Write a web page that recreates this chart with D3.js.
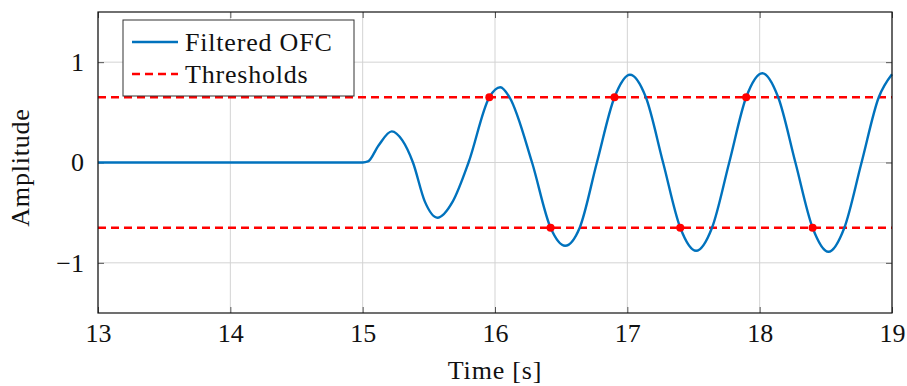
<!DOCTYPE html>
<html>
<head>
<meta charset="utf-8">
<script src="https://cdn.jsdelivr.net/npm/d3@7"></script>
<style>
  body { margin: 0; background: #fff; }
  text { font-family: 'Liberation Serif', 'DejaVu Serif', serif; fill: #111; }
</style>
</head>
<body>
<script>
'use strict';

// signal samples (time [s], amplitude)
var signalTime = [13, 15.0, 15.04, 15.12, 15.22, 15.30, 15.38, 15.47, 15.565, 15.68, 15.80,
  15.957, 16.04, 16.11, 16.28, 16.42, 16.53, 16.64, 16.77, 16.903, 17.02, 17.14, 17.27,
  17.40, 17.52, 17.64, 17.77, 17.898, 18.02, 18.14, 18.27, 18.40, 18.52, 18.64, 18.77, 18.90, 19.0];
var signalAmp = [0, 0, 0.01, 0.17, 0.31, 0.22, 0.0, -0.39, -0.55, -0.39, 0.0,
  0.65, 0.75, 0.65, 0.0, -0.65, -0.83, -0.65, 0.0, 0.65, 0.875, 0.65, 0.0,
  -0.65, -0.88, -0.65, 0.0, 0.65, 0.89, 0.65, 0.0, -0.65, -0.89, -0.65, 0.0, 0.65, 0.88];

var thresholds = [0.65, -0.65];

// threshold crossings marked with dots
var crossTime = [15.957, 16.42, 16.903, 17.40, 17.898, 18.40];
var crossAmp = [0.65, -0.65, 0.65, -0.65, 0.65, -0.65];

var xTicks = [13, 14, 15, 16, 17, 18, 19];
var yTicks = [-1, 0, 1];
var legendLabels = ['Filtered OFC', 'Thresholds'];

var width = 907;
var height = 386;
var margin = { top: 12, right: 15, bottom: 73, left: 98 };
var w = width - margin.left - margin.right;
var h = height - margin.top - margin.bottom;

var blue = '#0072bd';
var red = '#ff0000';
var fontSize = '26px';

var x = d3.scaleLinear().domain([13, 19]).range([0, w]);
var y = d3.scaleLinear().domain([-1.5, 1.5]).range([h, 0]);

var svg = d3.select('body').append('svg')
  .attr('width', width)
  .attr('height', height);

var g = svg.append('g')
  .attr('transform', 'translate(' + margin.left + ',' + margin.top + ')');

// grid
g.selectAll('.gx').data(xTicks).enter().append('line')
  .attr('x1', function(d) { return x(d); })
  .attr('x2', function(d) { return x(d); })
  .attr('y1', 0).attr('y2', h)
  .attr('stroke', '#d3d3d3').attr('stroke-width', 1);

g.selectAll('.gy').data(yTicks).enter().append('line')
  .attr('x1', 0).attr('x2', w)
  .attr('y1', function(d) { return y(d); })
  .attr('y2', function(d) { return y(d); })
  .attr('stroke', '#d3d3d3').attr('stroke-width', 1);

// axes, ticks pointing inward on all sides
var fmt = function(d) { return d < 0 ? '\u2212' + Math.abs(d) : String(d); };

var xb = g.append('g').attr('transform', 'translate(0,' + h + ')')
  .call(d3.axisBottom(x).tickValues(xTicks).tickSize(-6).tickPadding(11).tickFormat(fmt));
var xt = g.append('g')
  .call(d3.axisTop(x).tickValues(xTicks).tickSize(-6).tickFormat(''));
var yl = g.append('g')
  .call(d3.axisLeft(y).tickValues(yTicks).tickSize(-6).tickPadding(14).tickFormat(fmt));
var yr = g.append('g').attr('transform', 'translate(' + w + ',0)')
  .call(d3.axisRight(y).tickValues(yTicks).tickSize(-6).tickFormat(''));

[xb, xt, yl, yr].forEach(function(a) {
  a.select('.domain').remove();
  a.selectAll('.tick line').attr('stroke', '#555').attr('stroke-width', 1);
  a.selectAll('.tick text')
    .style('font-family', "'Liberation Serif', 'DejaVu Serif', serif")
    .style('font-size', fontSize)
    .attr('fill', '#111');
});
xb.selectAll('.tick text').attr('dy', '0.71em');

// threshold lines
g.selectAll('.thr').data(thresholds).enter().append('line')
  .attr('x1', 0).attr('x2', w)
  .attr('y1', function(d) { return y(d); })
  .attr('y2', function(d) { return y(d); })
  .attr('stroke', red).attr('stroke-width', 2.4)
  .attr('stroke-dasharray', '8,5');

// signal
var line = d3.line()
  .x(function(d, i) { return x(signalTime[i]); })
  .y(function(d) { return y(d); })
  .curve(d3.curveMonotoneX);

g.append('path')
  .datum(signalAmp)
  .attr('d', line)
  .attr('fill', 'none')
  .attr('stroke', blue)
  .attr('stroke-width', 2.4);

// crossing markers
g.selectAll('.dot').data(crossAmp).enter().append('circle')
  .attr('cx', function(d, i) { return x(crossTime[i]); })
  .attr('cy', function(d) { return y(d); })
  .attr('r', 4)
  .attr('fill', red);

// frame
g.append('rect')
  .attr('width', w).attr('height', h)
  .attr('fill', 'none').attr('stroke', '#111').attr('stroke-width', 1.2);

// legend
var lg = g.append('g').attr('transform', 'translate(25,8)');
lg.append('rect')
  .attr('width', 231).attr('height', 76)
  .attr('fill', '#fff').attr('stroke', '#333').attr('stroke-width', 1);

var entries = lg.selectAll('.entry').data(legendLabels).enter().append('g')
  .attr('transform', function(d, i) { return 'translate(0,' + (22 + i * 32) + ')'; });

entries.append('line')
  .attr('x1', 9).attr('x2', 55)
  .attr('stroke', function(d, i) { return i === 0 ? blue : red; })
  .attr('stroke-width', 2.4)
  .attr('stroke-dasharray', function(d, i) { return i === 0 ? null : '8,5'; });

entries.append('text')
  .attr('x', 62).attr('dy', '0.35em')
  .style('font-size', fontSize)
  .style('letter-spacing', '0.8px')
  .text(function(d) { return d; });

// axis labels
svg.append('text')
  .attr('x', margin.left + w / 2).attr('y', 379)
  .attr('text-anchor', 'middle')
  .style('font-size', fontSize)
  .style('letter-spacing', '0.8px')
  .text('Time [s]');

svg.append('text')
  .attr('transform', 'translate(29,' + (margin.top + h / 2 + 5) + ') rotate(-90)')
  .attr('text-anchor', 'middle')
  .style('font-size', fontSize)
  .style('letter-spacing', '0.8px')
  .text('Amplitude');
</script>
</body>
</html>
